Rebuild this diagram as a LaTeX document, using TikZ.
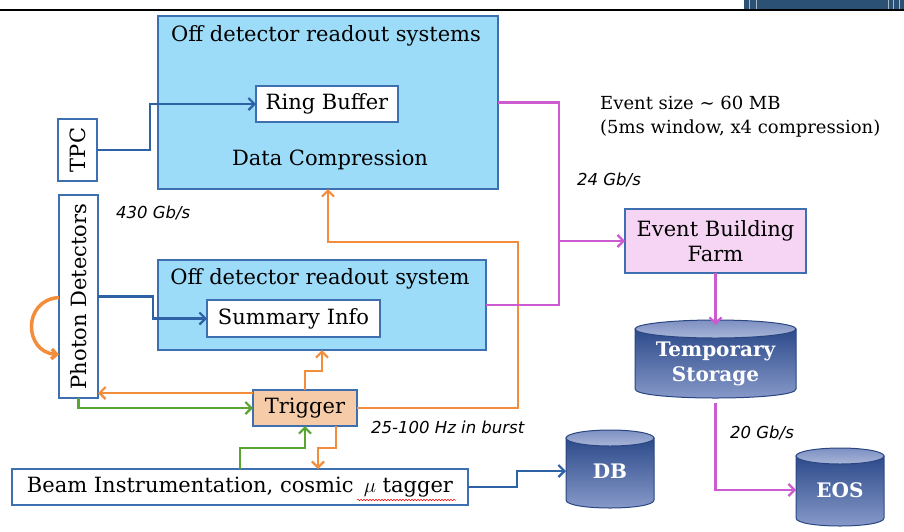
\documentclass[tikz,border=0pt]{standalone}
\usepackage{fontspec}
\setmainfont{DejaVu Serif}
\newfontfamily\lblfont{DejaVu Sans}
\usetikzlibrary{arrows.meta,decorations.pathmorphing,calc}
\definecolor{boxblue}{HTML}{9DDCF8}
\definecolor{edgeblue}{HTML}{3E6FB0}
\definecolor{linkblue}{HTML}{2D62A6}
\definecolor{trigfill}{HTML}{F5CBA8}
\definecolor{ebffill}{HTML}{F6D4F3}
\definecolor{orng}{HTML}{F28D3C}
\definecolor{grn}{HTML}{5AA532}
\definecolor{mag}{HTML}{CC5BCF}
\definecolor{cylTop}{HTML}{2C4A8A}
\definecolor{cylBot}{HTML}{8A9CCB}
\definecolor{capA}{HTML}{7D90C2}
\definecolor{capB}{HTML}{A8B5D8}
\definecolor{cylLine}{HTML}{2A4681}
\definecolor{barblue}{HTML}{2B5275}
\newcommand\mycyl[5]{%
  \shade[top color=cylTop,bottom color=cylBot,draw=cylLine,line width=1pt]
    (#1,#2+#5) -- (#1,#4-#5) .. controls (#1,{#4+0.333*#5}) and (#3,{#4+0.333*#5}) .. (#3,#4-#5) -- (#3,#2+#5) -- cycle;
  \shade[top color=capA,bottom color=capB,draw=cylLine,line width=1pt]
    ({(#1+#3)/2},#2+#5) ellipse [x radius={(#3-#1)/2}, y radius=#5];
}
\begin{document}
\begin{tikzpicture}[x=1pt,y=-1pt,
  blk/.style={draw=edgeblue,line width=1.2pt,inner sep=0pt,outer sep=0pt},
  big/.style={blk,fill=boxblue},
  whitebox/.style={blk,fill=white},
  txt/.style={inner sep=0pt,font=\fontsize{21}{25}\selectfont},
  lbl/.style={inner sep=0pt,anchor=west,font=\lblfont\itshape\fontsize{16.5}{19}\selectfont},
  cyltext/.style={inner sep=0pt,outer sep=0pt,text=white,align=center,font=\bfseries\fontsize{20}{25}\selectfont},
  conn/.style={line width=2.2pt,-{Straight Barb[length=6pt,width=12pt]}},
  plain/.style={line width=2.2pt},
]
\useasboundingbox (0,0) rectangle (904,531);
% header
\fill[barblue] (744,0) rectangle (904,8.5);
\foreach \xx in {749,756,888,893,899} \draw[white!60!barblue,line width=0.8pt] (\xx,0) -- (\xx,8.5);
\draw[line width=2pt] (0,9.5) -- (904,9.5);

% boxes
\node[big,minimum width=340,minimum height=173] (box1) at (328,102.5) {};
\node[txt] (t1) at (326,36) {Off detector readout systems};
\node[whitebox,minimum width=142,minimum height=36,txt] (rb) at (327,104) {Ring Buffer};
\node[txt] (dc) at (330,160) {Data Compression};

\node[big,minimum width=328,minimum height=90] (box2) at (322,305) {};
\node[txt] (t2) at (320,279) {Off detector readout system};
\node[whitebox,minimum width=173,minimum height=37,txt] (si) at (293.5,318.5) {Summary Info};

\node[whitebox,minimum width=39,minimum height=62,txt] (tpc) at (77.5,150) {\rotatebox{90}{TPC}};
\node[whitebox,minimum width=39,minimum height=203,txt] (pd) at (78.5,296.5) {\rotatebox{90}{Photon Detectors}};

\node[blk,fill=trigfill,minimum width=104,minimum height=36,txt] (trig) at (305,408) {Trigger};
\node[whitebox,minimum width=456,minimum height=36,txt] (beam) at (240,487) {Beam Instrumentation, cosmic \,$\mu$ tagger};
\draw[red,line width=0.5pt,decorate,decoration={snake,amplitude=0.8pt,segment length=3pt}] (357,500) -- (456,500);

\node[blk,fill=ebffill,minimum width=181,minimum height=64,txt,align=center] (ebf) at (715.5,241) {Event Building\\Farm};

% cylinders
\mycyl{635}{320}{796}{398}{9}
\node[cyltext,minimum width=161,minimum height=78] (ts) at (715.5,364) {Temporary\\Storage};
\mycyl{566}{430}{654}{508}{8}
\node[cyltext,minimum width=88,minimum height=78] (db) at (610,471) {DB};
\mycyl{796}{448}{884}{526}{8}
\node[cyltext,minimum width=88,minimum height=78] (eos) at (840,490) {EOS};

% labels
\node[lbl] (l430) at (116,213) {430 Gb/s};
\node[lbl] (l24) at (577,180) {24 Gb/s};
\node[lbl] (lburst) at (371,427) {25-100 Hz in burst};
\node[lbl] (l20) at (730,433) {20 Gb/s};
\node[inner sep=0pt,anchor=north west,align=left,font=\fontsize{18}{24}\selectfont] (evs) at (600,96) {Event size \textasciitilde{} 60 MB\\(5ms window, x4 compression)};

% connectors blue
\draw[conn,linkblue] (tpc.east) -- ++(53,0) |- (rb.west);
\draw[conn,linkblue] (pd.east) -- ++(55,0) |- (si.west);
\draw[conn,linkblue] (beam.east) -- ++(49,0) |- (db.west);

% orange
\coordinate (tw) at ([yshift=15pt]trig.west);
\draw[conn,orng] (tw) -- (tw -| pd.east);
\draw[conn,orng] (trig.north) -- ++(0,-19) -| (box2.south);
\coordinate (oc) at (518,242);
\draw[conn,orng] (trig.east) -| (oc) -| (box1.south);
\draw[conn,orng] ([xshift=31pt]trig.south) -- ++(0,22) -| ([xshift=78pt]beam.north);
\draw[orng,line width=3.5pt,-{Straight Barb[length=5pt,width=10pt]}] ([yshift=-1pt]pd.west) .. controls (22,300) and (24,352) .. ([yshift=-58pt]pd.west);

% green
\draw[conn,grn] (pd.south) |- (trig.west);
\draw[conn,grn] (beam.north) -- ++(0,-21) -| (trig.south);

% magenta
\coordinate (mj) at (559,241);
\draw[plain,mag] (box2.east) -| (mj);
\draw[conn,mag] (box1.east) -| (mj) -- (ebf.west);
\draw[conn,mag] (ebf.south) -- (ts.north);
\draw[conn,mag] (ts.south) |- (eos.west);
\end{tikzpicture}
\end{document}
